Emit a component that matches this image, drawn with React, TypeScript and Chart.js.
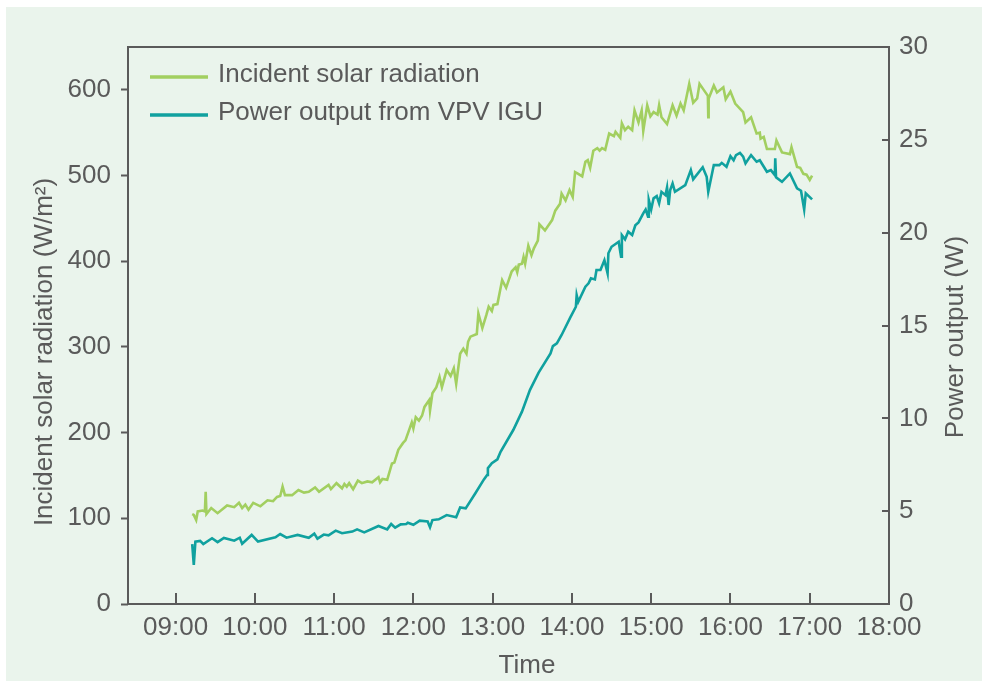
import React, { useEffect, useRef } from 'react';
import { Chart, registerables } from 'chart.js';

Chart.register(...registerables);

// ---- data (time in decimal hours) ----
const radiationTime = [
  9.21, 9.23, 9.26, 9.28, 9.34, 9.37, 9.38, 9.39, 9.45, 9.53, 9.65, 9.74, 9.8, 9.84, 9.88, 9.92, 9.98,
  10.07, 10.16, 10.23, 10.28, 10.32, 10.35, 10.38, 10.47, 10.55, 10.62, 10.68, 10.76, 10.81, 10.93, 10.96,
  11.03, 11.1, 11.13, 11.16, 11.19, 11.24, 11.3, 11.35, 11.42, 11.48, 11.56, 11.58, 11.61, 11.67, 11.73,
  11.76, 11.81, 11.87, 11.9, 11.98, 12.0, 12.03, 12.07, 12.11, 12.14, 12.2, 12.21, 12.24, 12.29, 12.33,
  12.36, 12.42, 12.47, 12.51, 12.54, 12.59, 12.63, 12.67, 12.69, 12.72, 12.8, 12.82, 12.87, 12.92, 12.95,
  12.99, 13.01, 13.06, 13.12, 13.17, 13.24, 13.29, 13.31, 13.33, 13.37, 13.39, 13.41, 13.45, 13.49, 13.52,
  13.57, 13.59, 13.66, 13.75, 13.79, 13.85, 13.87, 13.92, 13.97, 14.01, 14.04, 14.08, 14.13, 14.17, 14.2,
  14.23, 14.27, 14.32, 14.35, 14.38, 14.42, 14.47, 14.53, 14.55, 14.61, 14.63, 14.67, 14.71, 14.76, 14.79,
  14.84, 14.88, 14.9, 14.95, 14.99, 15.03, 15.08, 15.1, 15.13, 15.2, 15.27, 15.32, 15.37, 15.41, 15.48,
  15.53, 15.58, 15.61, 15.7, 15.715, 15.72, 15.725, 15.79, 15.83, 15.91, 15.94, 16.0, 16.06, 16.16, 16.19,
  16.26, 16.33, 16.37, 16.38, 16.42, 16.46, 16.56, 16.58, 16.65, 16.75, 16.77, 16.84, 16.88, 16.92, 16.96,
  17.0, 17.03,
];
const radiationValue = [
  105, 104, 98, 108, 109, 108, 131, 105, 112, 106, 115, 113, 118, 112, 116, 110, 118,
  114, 121, 120, 125, 126, 137, 127, 127, 133, 130, 131, 136, 131, 139, 134,
  141, 135, 140, 137, 141, 134, 144, 141, 143, 142, 148, 142, 146, 145, 164,
  165, 180, 188, 191, 212, 205, 218, 214, 220, 230, 238, 226, 246, 253, 265,
  253, 273, 266, 275, 257, 292, 298, 292, 306, 312, 315, 339, 322, 337, 347,
  342, 349, 350, 378, 369, 388, 393, 387, 396, 397, 405, 397, 418, 407, 415,
  424, 443, 436, 448, 459, 467, 479, 471, 483, 475, 504, 502, 499, 516, 518,
  509, 529, 532, 529, 532, 530, 549, 546, 551, 544, 561, 553, 557, 553, 576,
  562, 576, 552, 582, 569, 574, 571, 582, 568, 560, 582, 570, 584, 576, 607,
  585, 590, 607, 595, 593, 568, 590, 605, 597, 603, 589, 598, 584, 574, 562,
  568, 549, 550, 543, 545, 531, 531, 541, 527, 525, 533, 510, 509, 502, 501,
  495, 500,
];

const powerTime = [
  9.21, 9.23, 9.25, 9.31, 9.35, 9.46, 9.53, 9.61, 9.74, 9.81, 9.84, 9.96, 10.04, 10.26, 10.32, 10.4,
  10.54, 10.68, 10.75, 10.79, 10.87, 10.93, 11.02, 11.1, 11.23, 11.29, 11.38, 11.56, 11.67, 11.72, 11.77,
  11.84, 11.91, 11.93, 12.0, 12.08, 12.18, 12.21, 12.24, 12.32, 12.42, 12.54, 12.59, 12.66, 12.78, 12.89,
  12.93, 12.94, 12.99, 13.06, 13.1, 13.26, 13.37, 13.47, 13.58, 13.73, 13.76, 13.81, 13.87, 13.98, 14.05,
  14.06, 14.08, 14.17, 14.21, 14.24, 14.29, 14.31, 14.36, 14.41, 14.45, 14.46, 14.5, 14.55, 14.59, 14.62,
  14.63, 14.67, 14.71, 14.76, 14.8, 14.84, 14.9, 14.93, 14.96, 14.97, 15.0, 15.03, 15.07, 15.1, 15.13,
  15.18, 15.2, 15.22, 15.24, 15.27, 15.3, 15.43, 15.5, 15.53, 15.65, 15.7, 15.72, 15.79, 15.86, 15.89,
  15.95, 16.0, 16.04, 16.07, 16.12, 16.16, 16.19, 16.26, 16.33, 16.37, 16.46, 16.51, 16.56, 16.565,
  16.575, 16.65, 16.75, 16.84, 16.89, 16.93, 16.95, 17.03,
];
const powerValue = [
  3.23, 2.1, 3.36, 3.4, 3.23, 3.54, 3.33, 3.56, 3.41, 3.57, 3.25, 3.72, 3.36, 3.59, 3.77, 3.57,
  3.72, 3.57, 3.79, 3.52, 3.74, 3.7, 3.95, 3.81, 3.9, 4.02, 3.86, 4.2, 4.02, 4.31, 4.11,
  4.29, 4.31, 4.38, 4.27, 4.49, 4.44, 4.13, 4.52, 4.56, 4.79, 4.67, 5.2, 5.15, 5.95, 6.71,
  6.95, 7.31, 7.58, 7.79, 8.2, 9.37, 10.36, 11.52, 12.46, 13.5, 13.89, 14.04, 14.49, 15.44, 16.01,
  16.64, 16.28, 17.09, 17.27, 17.54, 17.48, 17.99, 17.99, 18.52, 17.81, 18.89, 19.24, 19.39, 19.51, 18.7,
  19.87, 19.64, 20.05, 19.87, 20.4, 20.55, 21.04, 21.25, 20.86, 21.76, 21.25, 21.85, 21.97, 21.58, 22.2,
  22.02, 22.44, 21.49, 22.3, 22.65, 22.2, 22.56, 23.37, 22.87, 23.52, 23.01, 22.2, 23.64, 23.64, 23.76,
  23.55, 24.12, 23.9, 24.18, 24.3, 24.1, 23.73, 24.18, 23.82, 23.9, 23.28, 23.37, 23.1, 24.0,
  22.98, 22.74, 23.19, 22.39, 22.26, 21.25, 22.12, 21.79,
];

const seriesLabels = ['Incident solar radiation', 'Power output from VPV IGU'];
const hourTicks = [9, 10, 11, 12, 13, 14, 15, 16, 17, 18];
const radiationTicks = [0, 100, 200, 300, 400, 500, 600];
const powerTicks = [0, 5, 10, 15, 20, 25, 30];
const leftTitle = 'Incident solar radiation (W/m²)';
const rightTitle = 'Power output (W)';
const bottomTitle = 'Time';

// ---- styles ----
const FONT = '"Liberation Sans", Arial, Helvetica, sans-serif';
const TEXT = '#5a5a5a';
const AXIS = '#5a5a5a';
const GREEN = '#a2cf60';
const TEAL = '#10a19f';
const BG = '#eaf4ec';
const W = 976;
const H = 674;

const decorPlugin = {
  id: 'decor',
  afterDraw(chart: any) {
    const { ctx, chartArea: a, scales } = chart;
    ctx.save();
    // frame
    ctx.strokeStyle = AXIS;
    ctx.lineWidth = 2;
    ctx.strokeRect(a.left, a.top, a.right - a.left, a.bottom - a.top);
    // inward x ticks
    const xs = scales.x;
    xs.ticks.forEach((t: any) => {
      const px = Math.round(xs.getPixelForValue(t.value));
      ctx.beginPath();
      ctx.moveTo(px, a.bottom);
      ctx.lineTo(px, a.bottom - 11);
      ctx.stroke();
    });
    // inward right ticks
    const yr = scales.y1;
    yr.ticks.forEach((t: any) => {
      const py = Math.round(yr.getPixelForValue(t.value));
      ctx.beginPath();
      ctx.moveTo(a.right, py);
      ctx.lineTo(a.right - 7, py);
      ctx.stroke();
    });
    // legend
    ctx.font = `26px ${FONT}`;
    ctx.fillStyle = TEXT;
    ctx.textAlign = 'left';
    ctx.textBaseline = 'alphabetic';
    chart.data.datasets.forEach((ds: any, i: number) => {
      const ly = a.top + 30 + i * 38;
      ctx.strokeStyle = ds.borderColor;
      ctx.lineWidth = 3.5;
      ctx.beginPath();
      ctx.moveTo(a.left + 22, ly);
      ctx.lineTo(a.left + 80, ly);
      ctx.stroke();
      ctx.fillText(ds.label, a.left + 90, ly + 5);
    });
    // axis titles
    ctx.textAlign = 'center';
    ctx.save();
    ctx.translate(46, 345);
    ctx.rotate(-Math.PI / 2);
    ctx.fillText(leftTitle, 0, 0);
    ctx.restore();
    ctx.save();
    ctx.translate(957, 330);
    ctx.rotate(-Math.PI / 2);
    ctx.fillText(rightTitle, 0, 0);
    ctx.restore();
    ctx.fillText(bottomTitle, 521, 666);
    ctx.restore();
  },
};

export default function App() {
  const ref = useRef<HTMLCanvasElement | null>(null);
  useEffect(() => {
    if (!ref.current) return;
    Chart.defaults.font.family = FONT;
    Chart.defaults.font.size = 26;
    Chart.defaults.color = TEXT;
    const chart = new Chart(ref.current, {
      type: 'line',
      data: {
        datasets: [
          {
            label: seriesLabels[0],
            data: radiationTime.map((t, i) => ({ x: t, y: radiationValue[i] })),
            borderColor: GREEN,
            backgroundColor: GREEN,
            borderWidth: 2.6,
            pointRadius: 0,
            tension: 0,
            yAxisID: 'y',
          },
          {
            label: seriesLabels[1],
            data: powerTime.map((t, i) => ({ x: t, y: powerValue[i] })),
            borderColor: TEAL,
            backgroundColor: TEAL,
            borderWidth: 2.6,
            pointRadius: 0,
            tension: 0,
            yAxisID: 'y1',
          },
        ],
      },
      options: {
        responsive: false,
        animation: false,
        layout: { padding: { top: 40, left: 0, right: 0, bottom: 0 } },
        plugins: { legend: { display: false }, tooltip: { enabled: false }, title: { display: false } },
        scales: {
          x: {
            type: 'linear',
            min: 8.4,
            max: 18,
            afterBuildTicks: (s: any) => {
              s.ticks = hourTicks.map((v) => ({ value: v }));
            },
            afterFit: (s: any) => {
              s.height = 77;
            },
            grid: { display: false, drawTicks: false },
            border: { display: false },
            ticks: {
              autoSkip: false,
              maxRotation: 0,
              padding: 8,
              color: TEXT,
              font: { size: 26, family: FONT },
              callback: (v: any) => String(v).padStart(2, '0') + ':00',
            },
          },
          y: {
            type: 'linear',
            position: 'left',
            min: 0,
            max: 650,
            afterBuildTicks: (s: any) => {
              s.ticks = radiationTicks.map((v) => ({ value: v }));
            },
            afterFit: (s: any) => {
              s.width = 122;
            },
            grid: {
              display: true,
              drawOnChartArea: false,
              drawTicks: true,
              tickLength: 7,
              tickWidth: 2,
              tickColor: AXIS,
              color: AXIS,
            },
            border: { display: false },
            ticks: { padding: 10, color: TEXT, font: { size: 26, family: FONT } },
          },
          y1: {
            type: 'linear',
            position: 'right',
            min: 0,
            max: 30,
            afterBuildTicks: (s: any) => {
              s.ticks = powerTicks.map((v) => ({ value: v }));
            },
            afterFit: (s: any) => {
              s.width = 93;
            },
            grid: { display: false, drawTicks: false },
            border: { display: false },
            ticks: { padding: 10, color: TEXT, font: { size: 26, family: FONT } },
          },
        },
      },
      plugins: [decorPlugin],
    });
    return () => chart.destroy();
  }, []);

  return (
    <div style={{ position: 'fixed', left: 0, top: 0, width: 982, height: 682, background: '#ffffff', overflow: 'hidden' }}>
      <div style={{ position: 'absolute', left: 6, top: 7, width: W, height: H, background: BG }}>
        <canvas ref={ref} width={W} height={H} style={{ display: 'block', width: W, height: H }} />
      </div>
    </div>
  );
}
